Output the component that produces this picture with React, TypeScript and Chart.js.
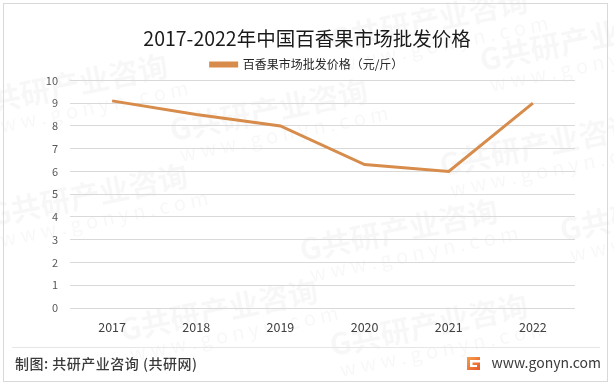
import React, { useEffect, useRef } from "react";
import { Chart, registerables } from "chart.js";

Chart.register(...registerables);

const categories = ["2017", "2018", "2019", "2020", "2021", "2022"];
const prices = [9.1, 8.5, 8.0, 6.3, 6.0, 9.0];
const seriesLabel = "百香果市场批发价格（元/斤）";
const titleText = "2017-2022年中国百香果市场批发价格";
const footerLeft = "制图: 共研产业咨询 (共研网)";
const footerRight = "www.gonyn.com";

const CJK = '"Noto Sans CJK SC", "Noto Sans", sans-serif';
const LINE_COLOR = "#D78C4B";

const decorPlugin = {
  id: "decor",
  beforeDraw(chart: any) {
    const ctx = chart.ctx;
    const W = chart.width;
    const H = chart.height;
    ctx.save();
    ctx.fillStyle = "#ffffff";
    ctx.fillRect(0, 0, W, H);
    // watermarks
    ctx.fillStyle = "rgba(0,0,0,0.03)";
    const spots = [
      [330, 40], [170, 130], [-10, 215], [440, 165], [300, 250], [120, 330], [480, 60], [560, 230], [-30, 105], [330, 345],
    ];
    for (const [x, y] of spots) {
      ctx.save();
      ctx.translate(x, y);
      ctx.rotate(-0.2);
      ctx.font = `bold 30px ${CJK}`;
      ctx.fillText("G共研产业咨询", 0, 0);
      ctx.font = `20px ${CJK}`;
      ctx.fillText("w w w . g o n y n . c o m", 5, 26);
      ctx.restore();
    }
    ctx.restore();
  },
  afterDraw(chart: any) {
    const ctx = chart.ctx;
    ctx.save();
    // outer border
    ctx.strokeStyle = "#d9d9d9";
    ctx.lineWidth = 1;
    ctx.strokeRect(3.5, 3.5, 604, 378);
    // separator
    ctx.beginPath();
    ctx.moveTo(12, 347.5);
    ctx.lineTo(600, 347.5);
    ctx.strokeStyle = "#e6e6e6";
    ctx.stroke();
    // footer left
    ctx.fillStyle = "#3a3a3a";
    ctx.font = `500 14px ${CJK}`;
    ctx.textBaseline = "middle";
    ctx.textAlign = "left";
    try { (ctx as any).letterSpacing = "0.5px"; } catch (e) {}
    ctx.fillText(footerLeft, 15, 364);
    try { (ctx as any).letterSpacing = "0px"; } catch (e) {}
    // logo
    const lx = 467, ly = 357;
    const grad = ctx.createLinearGradient(lx, ly, lx + 13, ly + 13);
    grad.addColorStop(0, "#f6a04a");
    grad.addColorStop(1, "#e8562a");
    ctx.fillStyle = grad;
    ctx.fillRect(lx, ly, 13, 13);
    ctx.fillStyle = "#ffffff";
    ctx.fillRect(lx + 3, ly + 3, 10, 2.5);
    ctx.fillRect(lx + 3, ly + 3, 2.5, 7);
    ctx.fillRect(lx + 3, ly + 8, 7, 2);
    // footer right
    ctx.fillStyle = "#3a3a3a";
    ctx.font = `14px ${CJK}`;
    ctx.textAlign = "right";
    ctx.fillText(footerRight, 601, 363);
    ctx.restore();
  },
};

export default function App() {
  const ref = useRef<HTMLCanvasElement | null>(null);
  useEffect(() => {
    document.body.style.margin = "0";
    const canvas = ref.current!;
    const chart = new Chart(canvas, {
      type: "line",
      data: {
        labels: categories,
        datasets: [
          {
            label: seriesLabel,
            data: prices,
            borderColor: LINE_COLOR,
            backgroundColor: LINE_COLOR,
            borderWidth: 3,
            pointRadius: 0,
            tension: 0,
            fill: false,
            yAxisID: "y",
          },
        ],
      },
      options: {
        animation: false,
        responsive: false,
        maintainAspectRatio: false,
        layout: { padding: { left: 0, right: 0, top: 5, bottom: 39 } },
        plugins: {
          title: {
            display: true,
            text: titleText,
            color: "#1a1a1a",
            font: { family: CJK, size: 19.5, weight: "normal" },
            padding: { top: 22, bottom: 2 },
          },
          legend: {
            display: true,
            labels: {
              color: "#262626",
              font: { family: CJK, size: 12 },
              boxWidth: 26,
              boxHeight: 3,
              padding: 6,
            },
          },
          tooltip: { enabled: false },
        },
        scales: {
          x: {
            offset: true,
            grid: { display: false, drawTicks: false },
            border: { display: false },
            ticks: { color: "#404040", font: { family: CJK, size: 12.5 }, padding: 12 },
          },
          y: {
            min: 0,
            max: 10,
            afterFit: (s: any) => { s.width = 70; },
            grid: { color: "#d9d9d9", drawTicks: false },
            border: { display: false },
            ticks: { stepSize: 1, color: "#595959", font: { family: CJK, size: 11 }, padding: 12 },
          },
          yRight: {
            position: "right",
            display: true,
            afterFit: (s: any) => { s.width = 39; },
            grid: { display: false, drawTicks: false },
            border: { display: false },
            ticks: { display: false },
          },
        },
      },
      plugins: [decorPlugin],
    });
    return () => chart.destroy();
  }, []);
  return <canvas ref={ref} width={614} height={386} style={{ display: "block" }} />;
}
